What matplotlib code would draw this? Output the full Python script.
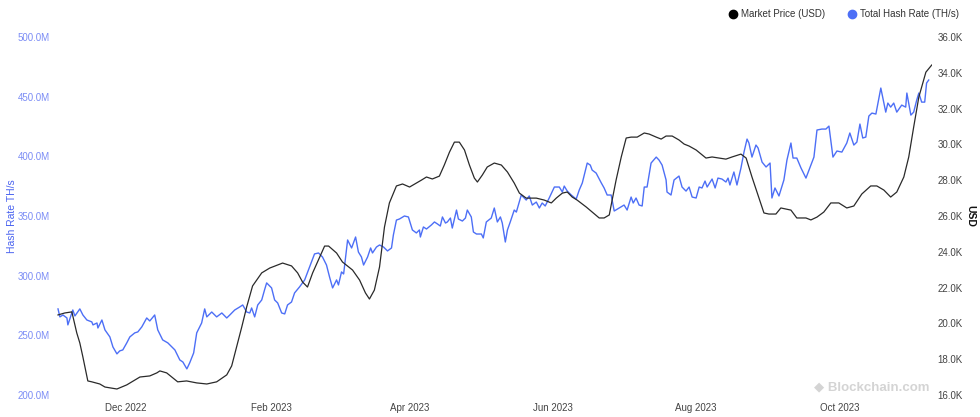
import numpy as np
import matplotlib
matplotlib.use("Agg")
import matplotlib.pyplot as plt
import matplotlib.dates as mdates
from matplotlib.lines import Line2D
from matplotlib.ticker import FuncFormatter, MultipleLocator

plt.rcParams['font.family'] = ['Liberation Sans', 'DejaVu Sans']

start = np.datetime64('2022-11-01')

# market price (USD thousands), days counted from 2022-11-01
price_days = [1.1, 4.0, 7.0, 9.1, 10.4, 11.7, 13.8, 15.5, 18.9, 21.1, 26.2, 30.4, 36.0, 40.2,
              43.2, 44.5, 47.4, 52.1, 55.9, 60.2, 64.5, 68.7, 73.0, 75.1, 77.2, 79.4, 81.5,
              84.0, 87.9, 91.3, 96.8, 100.6, 103.2, 105.3, 107.4, 109.6, 112.6, 114.7, 116.4,
              119.8, 122.3, 126.6, 129.6, 132.1, 133.8, 135.9, 138.1, 140.2, 142.3, 145.3,
              147.9, 150.9, 153.8, 156.0, 158.1, 160.6, 163.6, 165.7, 167.9, 170.0, 172.1,
              174.3, 176.4, 178.5, 179.8, 181.9, 184.0, 187.0, 190.0, 192.6, 195.5, 197.7,
              200.6, 204.9, 208.3, 211.3, 213.4, 216.0, 218.1, 220.2, 222.3, 226.2, 228.7,
              231.7, 233.8, 236.0, 236.8, 238.9, 241.1, 243.2, 245.3, 247.9, 250.9, 253.0,
              256.0, 258.1, 260.2, 262.8, 265.7, 267.9, 270.0, 273.0, 277.2, 279.8, 282.8,
              285.7, 288.3, 292.1, 294.3, 296.8, 299.8, 301.9, 304.0, 307.0, 309.1, 313.4,
              315.9, 319.8, 321.9, 324.5, 327.4, 330.4, 333.8, 337.2, 340.2, 343.6, 347.4,
              350.0, 353.0, 355.9, 358.5, 361.5, 363.6, 365.7, 367.9, 370.9, 373.4]
price_k = [20.47, 20.58, 20.64, 19.46, 18.90, 18.12, 16.78, 16.73, 16.61, 16.44, 16.33, 16.56,
           17.00, 17.06, 17.23, 17.34, 17.23, 16.73, 16.78, 16.67, 16.61, 16.73, 17.12, 17.62,
           18.68, 19.80, 20.92, 22.09, 22.82, 23.09, 23.37, 23.21, 22.82, 22.31, 22.03, 22.82,
           23.71, 24.32, 24.32, 23.93, 23.43, 22.98, 22.42, 21.70, 21.36, 21.86, 23.15, 25.38,
           26.73, 27.68, 27.79, 27.62, 27.84, 28.01, 28.18, 28.07, 28.23, 28.85, 29.57, 30.13,
           30.13, 29.69, 28.85, 28.12, 27.90, 28.29, 28.74, 28.96, 28.85, 28.46, 27.84, 27.28,
           27.00, 27.00, 26.89, 26.73, 27.00, 27.28, 27.34, 27.06, 26.89, 26.50, 26.22, 25.89,
           25.89, 26.06, 26.61, 28.01, 29.30, 30.36, 30.41, 30.41, 30.64, 30.58, 30.41, 30.30,
           30.47, 30.47, 30.25, 30.02, 29.91, 29.69, 29.24, 29.30, 29.24, 29.18, 29.30, 29.46,
           29.24, 28.18, 27.00, 26.17, 26.11, 26.11, 26.45, 26.33, 25.89, 25.89, 25.78, 25.94,
           26.22, 26.73, 26.73, 26.45, 26.56, 27.23, 27.68, 27.68, 27.45, 27.06, 27.34, 28.18,
           29.30, 30.97, 32.65, 34.04, 34.44]

# total hash rate (millions of TH/s)
hash_days = [1.1, 1.9, 3.2, 4.9, 5.3, 7.4, 8.3, 10.4, 11.7, 13.4, 15.5, 16.0, 17.7, 18.1, 19.8,
             21.1, 23.2, 24.5, 26.2, 27.4, 28.7, 30.4, 31.7, 33.8, 35.1, 36.8, 38.9, 40.2,
             42.3, 43.6, 45.7, 47.9, 49.6, 50.9, 53.0, 54.3, 56.0, 57.2, 58.9, 60.2, 62.3,
             63.6, 64.5, 66.6, 68.7, 70.9, 73.0, 74.3, 76.4, 78.5, 79.8, 81.5, 82.8, 83.6,
             84.9, 86.2, 87.9, 89.1, 90.0, 92.1, 93.4, 94.7, 96.4, 97.7, 98.9, 100.6, 101.9,
             104.0, 106.2, 108.3, 110.4, 112.1, 113.8, 115.5, 116.8, 118.1, 119.8, 120.6,
             121.9, 122.8, 124.5, 126.2, 127.9, 129.1, 130.4, 131.3, 133.0, 134.3, 135.1,
             136.8, 138.1, 139.8, 141.5, 143.2, 144.0, 145.3, 146.6, 148.7, 150.4, 152.1,
             153.8, 155.1, 155.5, 156.8, 158.1, 160.2, 161.5, 162.8, 164.0, 164.9, 166.2,
             167.0, 168.3, 169.1, 170.9, 171.7, 173.4, 174.7, 175.5, 177.2, 178.1, 179.4,
             181.5, 182.3, 183.6, 185.7, 187.0, 188.3, 189.6, 190.4, 191.7, 192.6, 193.8,
             195.5, 196.4, 198.5, 200.6, 201.9, 203.2, 204.9, 206.2, 207.4, 208.7, 210.4,
             212.6, 214.7, 216.0, 216.8, 218.1, 219.8, 221.9, 223.2, 224.5, 226.6, 227.9,
             228.7, 230.4, 231.7, 232.6, 233.8, 235.1, 236.8, 238.1, 240.2, 242.3, 243.6,
             245.3, 246.2, 247.4, 248.7, 250.0, 250.9, 252.1, 253.8, 256.0, 257.2, 258.5,
             260.2, 260.6, 262.3, 263.6, 265.7, 267.0, 268.7, 270.0, 271.3, 273.0, 274.3,
             275.5, 276.8, 277.7, 279.8, 281.1, 282.3, 284.0, 285.7, 286.6, 287.4, 289.1,
             290.4, 292.1, 293.4, 294.7, 295.5, 296.8, 298.5, 299.4, 301.1, 302.8, 304.5,
             305.3, 306.6, 308.3, 310.4, 311.7, 313.4, 314.3, 315.9, 317.7, 319.8, 323.2,
             324.5, 326.6, 328.3, 329.6, 331.3, 333.0, 335.1, 337.2, 338.5, 340.2, 341.5,
             342.8, 344.0, 345.3, 346.6, 347.9, 349.6, 351.7, 353.8, 354.7, 355.9, 357.2,
             358.5, 360.6, 362.3, 362.8, 364.5, 365.7, 367.0, 367.9, 369.1, 370.4, 371.2,
             372.1]
hash_m = [272.1, 265.4, 267.0, 264.5, 258.7, 271.2, 266.2, 272.1, 267.0, 262.8, 261.2, 258.7,
          260.3, 256.1, 262.8, 254.5, 248.6, 240.2, 234.4, 236.9, 237.7, 243.6, 248.6, 252.0,
          252.8, 257.0, 264.5, 262.0, 267.0, 254.5, 246.1, 243.6, 240.2, 237.7, 229.3, 227.6,
          221.8, 226.8, 235.2, 252.0, 260.3, 272.1, 265.4, 269.5, 265.4, 268.7, 264.5, 267.0,
          271.2, 273.7, 275.4, 269.5, 268.7, 272.9, 265.4, 275.4, 279.6, 288.0, 293.9, 289.7,
          279.6, 277.1, 268.7, 267.9, 275.4, 277.9, 285.5, 290.5, 296.4, 307.3, 318.2, 319.0,
          315.6, 308.9, 298.9, 289.7, 296.4, 292.2, 303.1, 301.4, 329.9, 323.2, 332.4, 319.8,
          315.6, 308.9, 315.6, 323.2, 319.0, 324.0, 325.7, 324.0, 320.7, 323.2, 334.1, 346.6,
          347.5, 350.0, 349.2, 338.3, 335.8, 338.3, 332.4, 340.8, 339.1, 342.5, 345.0, 343.3,
          341.6, 349.2, 344.1, 345.0, 348.3, 339.9, 355.0, 347.5, 345.8, 348.3, 355.0, 349.2,
          336.6, 334.9, 334.9, 331.6, 345.0, 348.3, 356.7, 345.0, 349.2, 344.1, 328.2, 338.3,
          345.0, 355.0, 353.3, 367.6, 363.4, 366.8, 359.2, 361.7, 356.7, 360.9, 358.4, 365.1,
          374.3, 374.3, 370.1, 375.1, 370.9, 367.6, 364.2, 371.8, 377.7, 394.4, 392.7, 388.5,
          386.0, 381.0, 377.7, 373.5, 367.6, 367.6, 354.2, 356.7, 359.2, 355.0, 365.9, 360.9,
          365.1, 359.2, 358.4, 374.3, 374.3, 394.4, 399.4, 396.9, 392.7, 380.2, 370.1, 367.6,
          380.2, 383.5, 374.3, 370.9, 374.3, 365.9, 365.1, 374.3, 373.5, 379.3, 374.3, 381.0,
          373.5, 381.8, 381.0, 378.5, 381.8, 376.0, 386.9, 376.0, 390.2, 403.6, 414.5, 411.2,
          399.4, 409.5, 407.0, 395.2, 391.1, 394.4, 365.1, 373.5, 366.8, 380.2, 396.9, 411.2,
          398.6, 398.6, 390.2, 381.8, 399.4, 422.1, 422.9, 422.9, 425.4, 399.4, 404.5, 403.6,
          411.2, 419.6, 409.5, 412.0, 427.1, 415.4, 416.2, 433.8, 436.3, 435.5, 457.3, 437.1,
          444.7, 441.3, 444.7, 437.1, 443.0, 441.3, 453.1, 434.6, 437.1, 447.2, 453.1, 445.5,
          445.5, 461.5, 464.0]

month_ticks = ['2022-12-01', '2023-02-01', '2023-04-01', '2023-06-01', '2023-08-01', '2023-10-01']

blue = '#4d6ff6'
base = mdates.date2num(start)
px = base + np.array(price_days)
hx = base + np.array(hash_days)

fig = plt.figure(figsize=(9.8, 4.17), dpi=100)
ax = fig.add_axes([0.058, 0.053, 0.893, 0.858])
ax2 = ax.twinx()

ax.plot(hx, hash_m, color=blue, lw=1.0)
ax2.plot(px, price_k, color='#2a2a2a', lw=0.9)

ax.set_xlim(base + 0.6, base + 373.5)
ax.set_ylim(200, 500)
ax2.set_ylim(16, 36)
ax.yaxis.set_major_locator(MultipleLocator(50))
ax2.yaxis.set_major_locator(MultipleLocator(2))
ax.yaxis.set_major_formatter(FuncFormatter(lambda v, p: f'{v:.1f}M'))
ax2.yaxis.set_major_formatter(FuncFormatter(lambda v, p: f'{v:.1f}K'))

ax.set_xticks([mdates.datestr2num(d) for d in month_ticks])
ax.xaxis.set_major_formatter(mdates.DateFormatter('%b %Y'))

for a in (ax, ax2):
    for s in a.spines.values():
        s.set_visible(False)
ax.tick_params(axis='x', length=0, labelsize=7, labelcolor='#444444', pad=6)
ax.tick_params(axis='y', length=0, labelsize=7, labelcolor='#7b8cf5', pad=5)
ax2.tick_params(axis='y', length=0, labelsize=7, labelcolor='#444444', pad=4)

fig.text(0.012, 0.482, 'Hash Rate TH/s', rotation=90, color='#4a63f0', fontsize=7.5,
         ha='center', va='center')
fig.text(0.99, 0.482, 'USD', rotation=270, color='#111111', fontsize=7.5, fontweight='bold',
         ha='center', va='center')

handles = [Line2D([], [], marker='o', ls='', markerfacecolor='black', markeredgecolor='black', markersize=6),
           Line2D([], [], marker='o', ls='', markerfacecolor=blue, markeredgecolor=blue, markersize=6)]
fig.legend(handles, ['Market Price (USD)', 'Total Hash Rate (TH/s)'], loc='center right',
           bbox_to_anchor=(0.988, 0.966), ncol=2, frameon=False, fontsize=7.0,
           handlelength=0.7, handletextpad=0.5, columnspacing=2.4, labelcolor='#333333')

fig.text(0.948, 0.07, '\u25c6 Blockchain.com', color='#d4d4d4', fontsize=9.5,
         fontweight='bold', ha='right', va='center')

fig.savefig('out.png', dpi=100, facecolor='white')
